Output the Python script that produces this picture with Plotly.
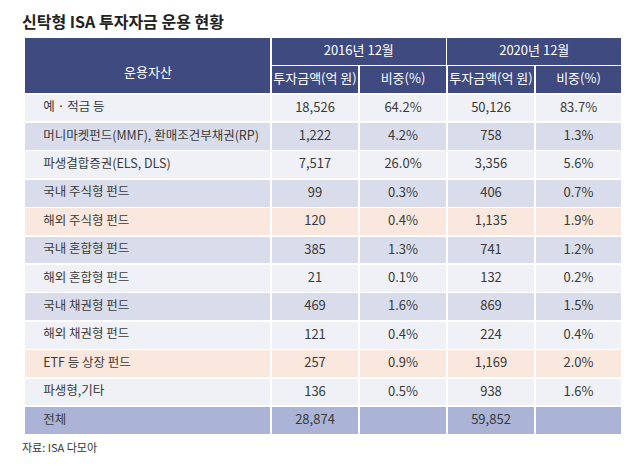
import plotly.graph_objects as go

# ---- data ----
categories = ["예 · 적금 등", "머니마켓펀드(MMF), 환매조건부채권(RP)", "파생결합증권(ELS, DLS)",
              "국내 주식형 펀드", "해외 주식형 펀드", "국내 혼합형 펀드", "해외 혼합형 펀드",
              "국내 채권형 펀드", "해외 채권형 펀드", "ETF 등 상장 펀드", "파생형,기타"]
amount_2016 = [18526, 1222, 7517, 99, 120, 385, 21, 469, 121, 257, 136]
share_2016 = [64.2, 4.2, 26.0, 0.3, 0.4, 1.3, 0.1, 1.6, 0.4, 0.9, 0.5]
amount_2020 = [50126, 758, 3356, 406, 1135, 741, 132, 869, 224, 1169, 938]
share_2020 = [83.7, 1.3, 5.6, 0.7, 1.9, 1.2, 0.2, 1.5, 0.4, 2.0, 1.6]
total_label = "전체"
total_2016 = 28874
total_2020 = 59852
periods = ["2016년 12월", "2020년 12월"]
sub_headers = ["투자금액(억 원)", "비중(%)", "투자금액(억 원)", "비중(%)"]
first_header = "운용자산"
title = "신탁형 ISA 투자자금 운용 현황"
source = "자료: ISA 다모아"

# ---- styles ----
W, H = 630, 468
FONT = "Noto Sans CJK KR"
NAVY = "#3e4a80"
DARK = "#d9dcea"
LIGHT = "#eff1f7"
SALMON = "#fae7de"
TOTAL = "#abb4d6"
TXT = "#3a3a3a"
CLEAR = "rgba(0,0,0,0)"
highlight = {"해외 주식형 펀드", "ETF 등 상장 펀드"}

left, right = 16, 614
col_w = [247, 88, 88, 88, 87]
top = 33
row_h = 28.4
split = left + col_w[0]
EMPTY_HDR = 20  # plotly's fixed height for an empty table header

def px_x(x):
    return x / W

def px_y(y):
    return 1 - y / H

row_colors = []
for i, c in enumerate(categories):
    if c in highlight:
        row_colors.append(SALMON)
    else:
        row_colors.append(LIGHT if i % 2 == 0 else DARK)
row_colors.append(TOTAL)

NB = "\u00a0"
IND = NB * 4
col0 = [IND + c.replace(" ", NB) for c in categories] + [IND + total_label]
col1 = [f"{v:,}" for v in amount_2016] + [f"{total_2016:,}"]
col2 = [f"{v:.1f}%" for v in share_2016] + [""]
col3 = [f"{v:,}" for v in amount_2020] + [f"{total_2020:,}"]
col4 = [f"{v:.1f}%" for v in share_2020] + [""]
columns = [col0, col1, col2, col3, col4]
n_rows = len(col0)

line = dict(color="white", width=1.5)
hdr_font = dict(family=FONT, size=13, color="white")
body_font = dict(family=FONT, size=[12.5, 13, 13, 13, 13], color=TXT)
hidden_header = dict(values=[], fill_color=CLEAR, line=dict(color=CLEAR, width=0))

fig = go.Figure()

def add_table(x0, x1, y_top, n, values, widths, height, fill, align, font):
    fig.add_trace(go.Table(
        domain=dict(x=[px_x(x0), px_x(x1)],
                    y=[px_y(y_top + n * height + 2), px_y(y_top - EMPTY_HDR)]),
        columnwidth=widths,
        header=hidden_header,
        cells=dict(values=values, height=height, fill_color=fill,
                   line=line, align=align, font=font),
    ))

# header: merged first column (label added as annotation, centred vertically)
add_table(left, split, top, 1, [[""]], [1], 2 * row_h, NAVY, "center", hdr_font)
# header: periods
add_table(split, right, top, 1, [[p] for p in periods], [1, 1], row_h, NAVY, "center", hdr_font)
# header: sub headers
add_table(split, right, top + row_h, 1, [[s.replace(" ", NB)] for s in sub_headers],
          col_w[1:], row_h, NAVY, "center", hdr_font)
# body
body_top = top + 2 * row_h
add_table(left, right, body_top, n_rows, columns, col_w, row_h,
          [row_colors] * 5, ["left", "center", "center", "center", "center"], body_font)

fig.add_annotation(text=first_header, xref="paper", yref="paper",
                   x=px_x((left + split) / 2), y=px_y(top + row_h + 2), xanchor="center",
                   yanchor="middle", showarrow=False, font=hdr_font)
fig.add_annotation(text="<b>" + title + "</b>", xref="paper", yref="paper",
                   x=px_x(12), y=px_y(13), xanchor="left", yanchor="middle",
                   showarrow=False, font=dict(family=FONT, size=16, color="#222222"))
fig.add_annotation(text=source, xref="paper", yref="paper",
                   x=px_x(12), y=px_y(439), xanchor="left", yanchor="middle",
                   showarrow=False, font=dict(family=FONT, size=11, color="#333333"))

fig.update_layout(width=W, height=H, margin=dict(l=0, r=0, t=0, b=0),
                  paper_bgcolor="white", plot_bgcolor="white", showlegend=False)
fig.write_html("out.html")
